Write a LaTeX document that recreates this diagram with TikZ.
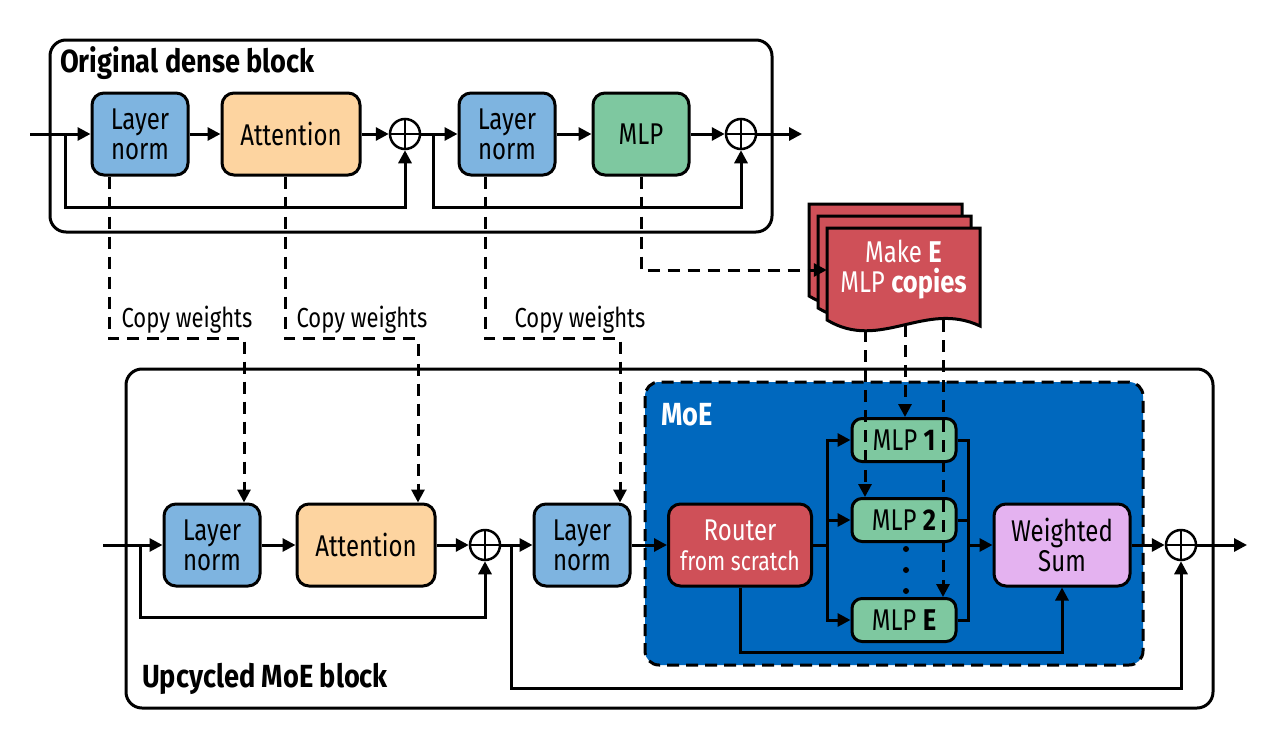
\documentclass[tikz,border=0pt]{standalone}
\usepackage{fontspec}
\setmainfont{Fira Sans}[FakeStretch=0.80, BoldFeatures={FakeStretch=0.85}]
\usetikzlibrary{arrows.meta,positioning}

\definecolor{lnblue}{RGB}{126,180,224}
\definecolor{attpeach}{RGB}{253,212,160}
\definecolor{mlpgreen}{RGB}{126,200,160}
\definecolor{routerred}{RGB}{207,80,88}
\definecolor{wsviolet}{RGB}{228,178,240}
\definecolor{moeblue}{RGB}{0,104,190}

\tikzset{
  box/.style={draw, line width=3pt, rounded corners=12pt, minimum height=82pt, inner sep=0pt, align=center, font=\fontsize{30}{30}\selectfont},
  lnbox/.style={box, fill=lnblue, minimum width=96pt},
  attbox/.style={box, fill=attpeach, minimum width=138pt},
  mlpbox/.style={box, fill=mlpgreen, minimum width=96pt},
  expert/.style={box, fill=mlpgreen, minimum width=104pt, minimum height=43pt, rounded corners=10pt},
  plus/.style={draw, circle, line width=2.5pt, minimum size=30pt, inner sep=0pt},
  block/.style={draw, line width=3pt, rounded corners=16pt},
  tip/.style={-{Triangle[length=13pt,width=13pt]}},
  flow/.style={line width=3pt, tip},
  wire/.style={line width=3pt},
  copyline/.style={line width=3pt, dash pattern=on 12pt off 8pt},
  lbl/.style={font=\fontsize{27.5}{27.5}\selectfont, inner sep=0pt},
  title/.style={font=\fontsize{32}{32}\selectfont\bfseries, inner sep=0pt, anchor=base west},
  sheet/.style={draw, line width=3pt, fill=routerred, line join=miter},
}

\newcommand\crossplus[1]{\draw[line width=2.5pt] (#1.north) -- (#1.south) (#1.west) -- (#1.east);}

\begin{document}
\begin{tikzpicture}[x=1pt,y=-1pt]
    \useasboundingbox (0,0) rectangle (1274,744);

    % original dense block
    \draw[block] (50,40) rectangle (772,232);
    \node[title] at (60,72) {Original dense block};

    \node[lnbox] (ln1) at (140,134) {Layer\\norm};
    \node[attbox] (att1) at (291,134) {Attention};
    \node[plus] (p1) at (405,134) {};
    \node[lnbox] (ln2) at (507,134) {Layer\\norm};
    \node[mlpbox] (mlp) at (641,134) {MLP};
    \node[plus] (p2) at (741,134) {};
    \crossplus{p1}
    \crossplus{p2}

    \coordinate (in1) at (30,134);
    \coordinate (out1) at (802,134);
    \coordinate (r1) at (65,134);
    \coordinate (r2) at (433,134);
    \draw[flow] (in1) -- (ln1);
    \draw[flow] (ln1) -- (att1);
    \draw[flow] (att1) -- (p1);
    \draw[flow] (p1) -- (ln2);
    \draw[flow] (ln2) -- (mlp);
    \draw[flow] (mlp) -- (p2);
    \draw[flow] (p2) -- (out1);
    \draw[flow] (r1) -- ++(0,73) -| (p1.south);
    \draw[flow] (r2) -- ++(0,73) -| (p2.south);

    % upcycled block
    \draw[block] (126,369) rectangle (1213,708);
    \node[title] at (142,687) {Upcycled MoE block};
    \draw[line width=3pt, dash pattern=on 12pt off 7pt, rounded corners=14pt, fill=moeblue] (645,382) rectangle (1143,665);
    \node[title, text=white] at (661,425) {MoE};

    \node[lnbox] (ln3) at (212,545) {Layer\\norm};
    \node[attbox] (att2) at (366,545) {Attention};
    \node[plus] (p3) at (485,545) {};
    \node[lnbox] (ln4) at (582,545) {Layer\\norm};
    \node[box, fill=routerred, text=white, minimum width=143pt] (router) at (740,545)
        {Router\\{\fontsize{26.5}{30}\selectfont from scratch}};
    \node[expert] (mlp1) at (904,440) {MLP \textbf{1}};
    \node[expert] (mlp2) at (904,520) {MLP \textbf{2}};
    \node[expert] (mlpE) at (904,620) {MLP \textbf{E}};
    \foreach \y in {549,570,591} \fill (906,\y) circle (3pt);
    \node[box, fill=wsviolet, minimum width=136pt] (ws) at (1062,545) {Weighted\\Sum};
    \node[plus] (p4) at (1181,545) {};
    \crossplus{p3}
    \crossplus{p4}

    \coordinate (in2) at (103,545);
    \coordinate (out2) at (1247,545);
    \coordinate (r3) at (140,545);
    \coordinate (r4) at (511,545);
    \coordinate (busr) at (968,545);
    \draw[flow] (in2) -- (ln3);
    \draw[flow] (ln3) -- (att2);
    \draw[flow] (att2) -- (p3);
    \draw[flow] (p3) -- (ln4);
    \draw[flow] (ln4) -- (router);
    \draw[flow] (router.east) -- ++(14,0) |- (mlp1.west);
    \draw[flow] (router.east) -- ++(14,0) |- (mlp2.west);
    \draw[flow] (router.east) -- ++(14,0) |- (mlpE.west);
    \draw[wire] (mlp1.east) -| (busr);
    \draw[wire] (mlp2.east) -| (busr);
    \draw[wire] (mlpE.east) -| (busr);
    \draw[flow] (busr) -- (ws);
    \draw[flow] (router.south) -- ++(0,65) -| (ws.south);
    \draw[flow] (ws) -- (p4);
    \draw[flow] (p4) -- (out2);
    \draw[flow] (r3) -- ++(0,72) -| (p3.south);
    \draw[flow] (r4) -- ++(0,143) -| (p4.south);

    % copy weights
    \draw[copyline, tip] ([xshift=-31pt]ln1.south) -- ++(0,162) -| ([xshift=32pt]ln3.north);
    \draw[copyline, tip] ([xshift=-6pt]att1.south) -- ++(0,162) -| ([xshift=52pt]att2.north);
    \draw[copyline, tip] ([xshift=-22pt]ln2.south) -- ++(0,162) -| ([xshift=38pt]ln4.north);
    \node[lbl] (cw1) at (187,320) {Copy weights};
    \node[lbl] (cw2) at (362,320) {Copy weights};
    \node[lbl] (cw3) at (580,320) {Copy weights};

    % expert copies
    \node[inner sep=0pt, minimum width=153pt, minimum height=60pt] (copies) at (903.5,270) {};
    \coordinate (d1) at (865,330);
    \coordinate (d2) at (905,325);
    \coordinate (d3) at (943,320);
    \draw[copyline, tip] (d1) -- (d1 |- mlp2.north);
    \draw[copyline, tip] (d2) -- (d2 |- mlp1.north);
    \draw[copyline, tip] (d3) -- (d3 |- mlpE.north);
    \foreach \dx/\dy in {-18/-24,-9/-12,0/0}
      \draw[sheet, shift={(\dx,\dy)}] (827,228) -- (980,228) -- (980,326) .. controls (925,300) and (880,352) .. (827,320) -- cycle;
    \node[text=white, align=center, font=\fontsize{30}{30}\selectfont] at (copies) {Make \textbf{E}\\MLP \textbf{copies}};
    \draw[copyline, tip] (mlp.south) |- (copies.west);

\end{tikzpicture}
\end{document}
